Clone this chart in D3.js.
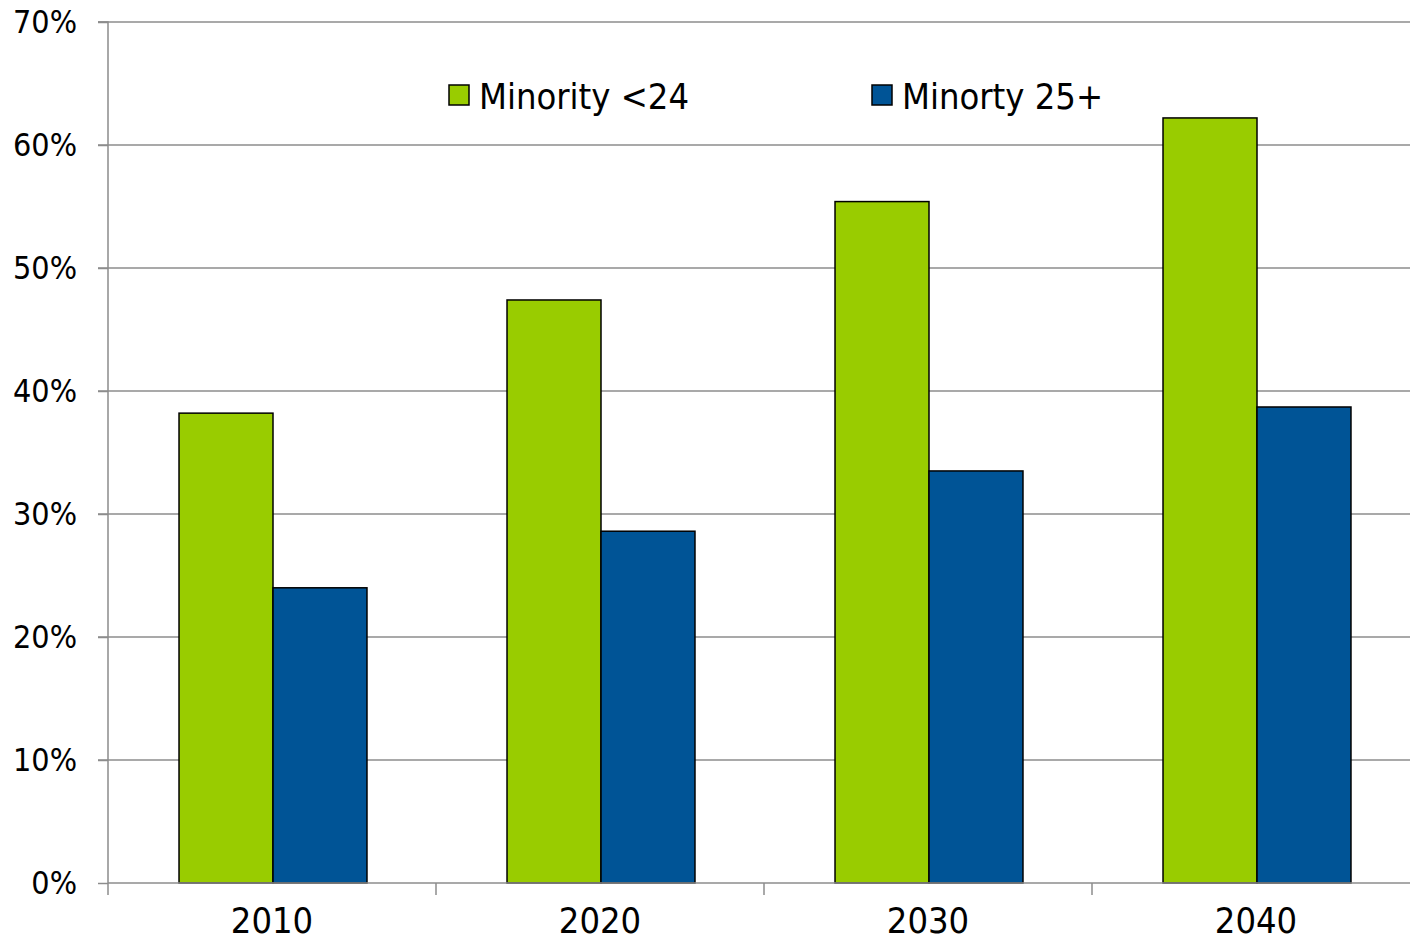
<!DOCTYPE html>
<html><head><meta charset="utf-8">
<script src="https://cdn.jsdelivr.net/npm/d3@7"></script>
<style>body{margin:0;background:#fff}svg{display:block}text{font-family:Tahoma,"DejaVu Sans Condensed","DejaVu Sans",sans-serif;fill:#000}</style>
</head><body><svg id="c" width="1410" height="940"></svg>
<script>
const categories = ["2010","2020","2030","2040"];
const seriesNames = ["Minority <24","Minorty 25+"];
const minorityUnder24 = [38.2, 47.4, 55.4, 62.2];
const minority25plus = [24.0, 28.6, 33.5, 38.7];
const yTicks = [0,10,20,30,40,50,60,70];
const colors = ["#99cc00","#005496"];

const svg = d3.select("#c");
const m = {l:108, t:22, r:1420, b:883};
const x = d3.scaleBand().domain(categories).range([m.l, m.r]).paddingInner(0).paddingOuter(0);
const y = d3.scaleLinear().domain([0,70]).range([m.b, m.t]);
const inner = d3.scaleBand().domain([0,1]).range([1, x.bandwidth()+1]).paddingOuter(0.745).paddingInner(0);

// gridlines
svg.append("g").selectAll("line").data(yTicks.filter(d=>d>0)).join("line")
  .attr("x1", m.l-10).attr("x2", 1410).attr("y1", d=>y(d)).attr("y2", d=>y(d))
  .attr("stroke","#8c8c8c").attr("stroke-width",1.5);

// y axis
const ya = svg.append("g").attr("transform",`translate(${m.l},0)`)
  .call(d3.axisLeft(y).tickValues(yTicks).tickFormat(d=>d+"%").tickSize(10).tickPadding(21));
ya.select(".domain").attr("stroke","#8c8c8c").attr("stroke-width",1.5).attr("d",`M-10,${m.t}H0V${m.b}`);
ya.selectAll(".tick line").attr("stroke","#8c8c8c").attr("stroke-width",1.5);
ya.selectAll(".tick text").attr("font-size",32).attr("fill","#000").style("font-family",'Tahoma,"DejaVu Sans Condensed","DejaVu Sans",sans-serif');

// bars
const data = [minorityUnder24, minority25plus];
data.forEach((vals, si) => {
  svg.append("g").selectAll("rect").data(vals).join("rect")
    .attr("x", (d,i)=>x(categories[i]) + inner(si))
    .attr("width", inner.bandwidth())
    .attr("y", d=>y(d))
    .attr("height", d=>y(0)-y(d))
    .attr("fill", colors[si]).attr("stroke","#000").attr("stroke-width",1.5);
});

// x axis
const xa = svg.append("g").attr("transform",`translate(0,${m.b})`)
  .call(d3.axisBottom(x).tickSize(0).tickPadding(24));
xa.select(".domain").remove();
xa.append("line").attr("x1",m.l).attr("x2",1410).attr("stroke","#8c8c8c").attr("stroke-width",1.5);
xa.selectAll(".tick text").attr("font-size",36).attr("fill","#000").style("font-family",'Tahoma,"DejaVu Sans Condensed","DejaVu Sans",sans-serif');
const bounds = categories.map(c=>x(c));
xa.selectAll("line.sep").data(bounds).join("line").attr("class","sep")
  .attr("x1",d=>d).attr("x2",d=>d).attr("y1",0).attr("y2",12)
  .attr("stroke","#8c8c8c").attr("stroke-width",1.5);

// legend
const lg = svg.append("g");
const lx = [449, 872];
seriesNames.forEach((n,i)=>{
  lg.append("rect").attr("x",lx[i]).attr("y",85).attr("width",20).attr("height",20)
    .attr("fill",colors[i]).attr("stroke","#000").attr("stroke-width",1.5);
  lg.append("text").attr("x",lx[i]+30).attr("y",109).attr("font-size",36).text(n);
});
</script></body></html>
